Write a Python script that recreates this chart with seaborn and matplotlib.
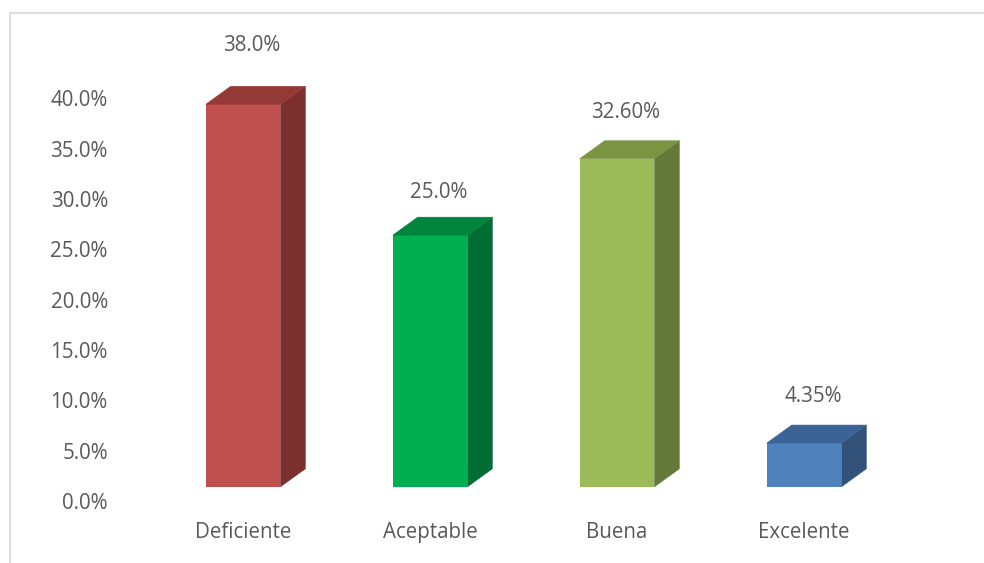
import matplotlib
matplotlib.use("Agg")
import matplotlib.pyplot as plt
from matplotlib.patches import Polygon, Rectangle
import seaborn as sns
import pandas as pd

categories = ["Deficiente", "Aceptable", "Buena", "Excelente"]
values = [38.0, 25.0, 32.6, 4.35]
value_labels = ["38.0%", "25.0%", "32.60%", "4.35%"]
yticks = [0, 5, 10, 15, 20, 25, 30, 35, 40]
ytick_labels = ["0.0%", "5.0%", "10.0%", "15.0%", "20.0%", "25.0%", "30.0%", "35.0%", "40.0%"]

front_colors = ["#C0504D", "#00B050", "#9BBB59", "#4F81BD"]
side_colors = ["#7B302E", "#006E32", "#65793A", "#33527A"]
top_colors = ["#953937", "#00853C", "#7A9442", "#3C6396"]

sns.set_theme(style="white")
plt.rcParams["font.family"] = ["Open Sans", "DejaVu Sans"]
text_color = "#595959"
fs = 14.8

fig = plt.figure(figsize=(9.84, 5.63), dpi=100)
ax = fig.add_axes([149.5 / 984, 62 / 563, 748 / 984, 453 / 563])

df = pd.DataFrame({"cat": categories, "val": values})
sns.barplot(data=df, x="cat", y="val", hue="cat", palette=front_colors,
            width=0.4, ax=ax, legend=False, linewidth=0, saturation=1)

base = 1.4
dx, dy = 0.134, 1.8
label_off = [7.2, 5.65, 6.0, 6.05]
for i, p in enumerate(ax.patches):
    p.set_y(base)
    x0 = p.get_x()
    w = p.get_width()
    h = p.get_height()
    x1 = x0 + w
    ytop = base + h
    side = Polygon([(x1, base), (x1 + dx, base + dy), (x1 + dx, ytop + dy), (x1, ytop)],
                   closed=True, facecolor=side_colors[i], edgecolor=side_colors[i],
                   linewidth=0.3, clip_on=False)
    top = Polygon([(x0, ytop), (x1, ytop), (x1 + dx, ytop + dy), (x0 + dx, ytop + dy)],
                  closed=True, facecolor=top_colors[i], edgecolor=top_colors[i],
                  linewidth=0.3, clip_on=False)
    ax.add_patch(side)
    ax.add_patch(top)
    ax.text(x0 + (w + dx) / 2 - 0.02, values[i] + label_off[i], value_labels[i],
            ha="center", va="center", fontsize=fs, color=text_color, clip_on=False)

ax.set_xlim(-0.5, 3.5)
ax.set_ylim(0, 45)
ax.set_yticks(yticks)
ax.set_yticklabels(ytick_labels)
ax.tick_params(axis="y", length=0, pad=30, labelsize=fs, labelcolor=text_color)
ax.tick_params(axis="x", length=0, pad=15, labelsize=fs, labelcolor=text_color)
ax.set_xlabel("")
ax.set_ylabel("")
for s in ax.spines.values():
    s.set_visible(False)
ax.grid(False)
ax.set_facecolor("none")

border = Rectangle((9.5 / 984, -0.05), 1.2, 1 - 12.5 / 563 + 0.05, transform=fig.transFigure,
                   facecolor="none", edgecolor="#D9D9D9", linewidth=1.2, clip_on=False)
fig.patches.append(border)

fig.savefig("out.png", dpi=100)
